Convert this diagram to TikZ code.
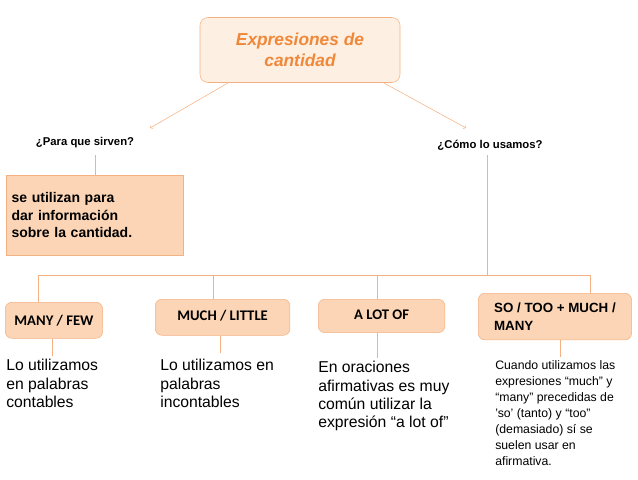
\documentclass[tikz,border=0pt]{standalone}
\usepackage{fontspec}
\setmainfont{Liberation Sans}
\newfontfamily\calfont{Carlito}
\definecolor{peach}{HTML}{FBD5B5}
\definecolor{peachlight}{HTML}{FDEFE2}
\definecolor{peachline}{HTML}{F4B183}
\definecolor{titleorange}{HTML}{F0883A}
\tikzset{
    conn/.style={draw=peachline, thin},
    kindbox/.style={draw=peachline, fill=peach, rounded corners=5pt, inner sep=4pt, font=\calfont\bfseries\fontsize{11}{13}\selectfont, anchor=north west},
    question/.style={font=\bfseries\fontsize{8.5}{10}\selectfont},
    usage/.style={anchor=north west, align=left, inner sep=0pt, font=\fontsize{11.8}{13.8}\selectfont}
}
\begin{document}
\begin{tikzpicture}[x=0.75pt, y=-0.75pt]
    \useasboundingbox (0,0) rectangle (638,479);

    % Title and questions
    \node[draw=peachline, fill=peachlight, rounded corners=6pt, minimum width=150pt, minimum height=48.75pt,
        align=center, text=titleorange, font=\bfseries\itshape\fontsize{13}{15.5}\selectfont] (title) at (300,50)
        {Expresiones de\\cantidad};
    \node[question] (para) at (85,143) {¿Para que sirven?};
    \node[question] (como) at (490,145) {¿Cómo lo usamos?};
    \coordinate (paratip) at (150,128);
    \coordinate (comotip) at (466,128);
    \draw[conn, ->] (228,83) -- (paratip);
    \draw[conn, ->] (384,83) -- (comotip);

    % Purpose
    \node[draw=peachline, fill=peach, anchor=north west, minimum width=133pt, minimum height=60pt,
        align=left, text width=125pt, font=\bfseries\fontsize{10.5}{13}\selectfont] (sirven) at (6,175)
        {se utilizan para\\dar información\\sobre la cantidad.\\[12pt]};
    \draw[conn] (95,155) -- (95,175);

    % Kinds
    \node[kindbox, minimum width=73pt, minimum height=27pt] (manyfew) at (5,302) {\raisebox{-3pt}{MANY / FEW}};
    \node[kindbox, minimum width=101pt, minimum height=27pt] (muchlittle) at (155,299) {\raisebox{3pt}{MUCH / LITTLE}\hspace{10pt}};
    \node[kindbox, minimum width=95pt, minimum height=25pt] (alotof) at (318,299) {\raisebox{2pt}{A LOT OF}\hspace{24pt}};
    \node[kindbox, minimum width=115pt, minimum height=35pt, align=left, font=\bfseries\fontsize{10}{13}\selectfont] (sotoo) at (478,293) {SO / TOO + MUCH /\\MANY};
    \coordinate (branch) at (487,275);
    \draw[conn] (487,155) -- (branch);
    \draw[conn] (38,275) -- (590,275);
    \foreach \x/\n in {38/manyfew, 213/muchlittle, 377/alotof, 590/sotoo}
        \draw[conn] (\x,275) -- (\x,0 |- \n.north);

    % Usage texts
    \node[usage] (usemany) at (6,359) {Lo utilizamos\\en palabras\\contables};
    \node[usage] (usemuch) at (160,359) {Lo utilizamos en\\palabras\\incontables};
    \node[usage] (usealot) at (318,361) {En oraciones\\afirmativas es muy\\común utilizar la\\expresión “a lot of”};
    \node[usage, font=\fontsize{9.2}{12}\selectfont] (useso) at (495,360)
        {Cuando utilizamos las\\expresiones “much” y\\“many” precedidas de\\'so' (tanto) y “too”\\(demasiado) sí se\\suelen usar en\\afirmativa.};
    \draw[conn] (52,0 |- manyfew.south) -- (52,356);
    \draw[conn] (220,0 |- muchlittle.south) -- (220,353);
    \draw[conn] (377,0 |- alotof.south) -- (377,358);
    \draw[conn] (560,0 |- sotoo.south) -- (560,357);
\end{tikzpicture}
\end{document}
